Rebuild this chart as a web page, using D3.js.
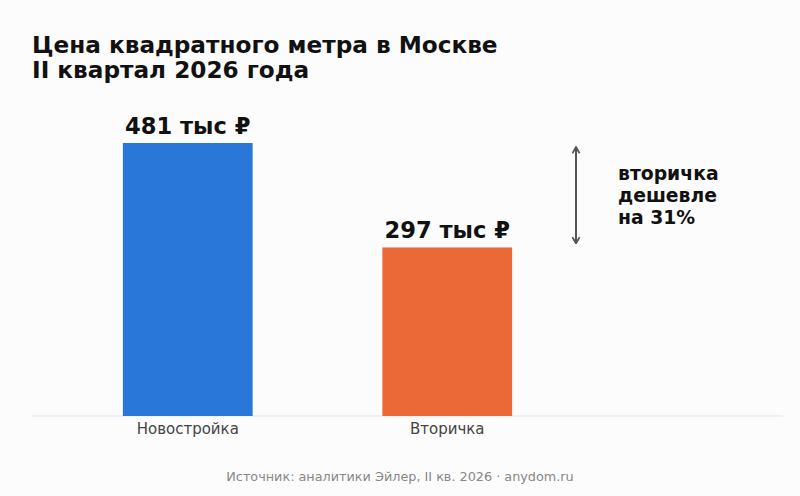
<!DOCTYPE html>
<html>
<head>
<meta charset="utf-8">
<script src="https://cdn.jsdelivr.net/npm/d3@7"></script>
<style>
  html, body { margin: 0; padding: 0; background: #fcfcfc; }
  svg { display: block; font-family: "DejaVu Sans", sans-serif; }
</style>
</head>
<body>
<svg width="800" height="496"></svg>
<script>
// данные
const categories = ["Новостройка", "Вторичка"];
const prices = [481, 297];          // тыс ₽ за м²
const barColors = ["#2977d8", "#eb6936"];
const titleLines = ["Цена квадратного метра в Москве", "II квартал 2026 года"];
const noteLines = ["вторичка", "дешевле", "на 31%"];
const source = "Источник: аналитики Эйлер, II кв. 2026 · anydom.ru";

const svg = d3.select("svg");

// заголовок
svg.append("g")
   .selectAll("text")
   .data(titleLines)
   .enter()
   .append("text")
   .attr("x", 32)
   .attr("y", (d, i) => 53 + i * 25)
   .style("font-size", "23.2px")
   .style("font-weight", "bold")
   .attr("fill", "#111")
   .text(d => d);

// шкалы
const x = d3.scaleBand()
            .domain(categories)
            .range([58, 577])
            .paddingInner(0.5)
            .paddingOuter(0.25);

const y = d3.scaleLinear()
            .domain([0, 481])
            .range([416, 143]);

// базовая линия
svg.append("line")
   .attr("x1", 32).attr("x2", 783)
   .attr("y1", y(0)).attr("y2", y(0))
   .attr("stroke", "#e3e3e3")
   .attr("stroke-width", 1);

// столбцы
svg.selectAll(".bar")
   .data(prices)
   .enter()
   .append("rect")
   .attr("class", "bar")
   .attr("x", (d, i) => x(categories[i]))
   .attr("width", x.bandwidth())
   .attr("y", d => y(d))
   .attr("height", d => y(0) - y(d))
   .attr("fill", (d, i) => barColors[i]);

// подписи значений
svg.selectAll(".val")
   .data(prices)
   .enter()
   .append("text")
   .attr("class", "val")
   .attr("x", (d, i) => x(categories[i]) + x.bandwidth() / 2)
   .attr("y", d => y(d) - 9)
   .attr("text-anchor", "middle")
   .style("font-size", "22.6px")
   .style("font-weight", "bold")
   .attr("fill", "#111")
   .text(d => d + " тыс ₽");

// ось категорий
const axis = svg.append("g")
                .attr("transform", `translate(0,${y(0)})`)
                .call(d3.axisBottom(x).tickSize(0).tickPadding(7));
axis.select(".domain").remove();
axis.selectAll("text")
    .style("font-size", "15px")
    .style("font-family", "DejaVu Sans, sans-serif")
    .attr("fill", "#444");

// стрелка разницы
const defs = svg.append("defs");
defs.append("marker")
    .attr("id", "ah")
    .attr("viewBox", "0 0 10 10")
    .attr("refX", 9).attr("refY", 5)
    .attr("markerUnits", "userSpaceOnUse")
    .attr("markerWidth", 9).attr("markerHeight", 9)
    .attr("orient", "auto-start-reverse")
    .append("path")
    .attr("d", "M2,1 L9,5 L2,9")
    .attr("fill", "none")
    .attr("stroke", "#555")
    .attr("stroke-width", 2);

svg.append("line")
   .attr("x1", 576).attr("x2", 576)
   .attr("y1", y(prices[0]) + 4)
   .attr("y2", y(prices[1]) - 4)
   .attr("stroke", "#555")
   .attr("stroke-width", 2)
   .attr("marker-start", "url(#ah)")
   .attr("marker-end", "url(#ah)");

svg.append("g")
   .selectAll("text")
   .data(noteLines)
   .enter()
   .append("text")
   .attr("x", 618)
   .attr("y", (d, i) => 180 + i * 22)
   .style("font-size", "18.8px")
   .style("font-weight", "bold")
   .attr("fill", "#111")
   .text(d => d);

// источник
svg.append("text")
   .attr("x", 400)
   .attr("y", 481)
   .attr("text-anchor", "middle")
   .style("font-size", "12.8px")
   .attr("fill", "#888")
   .text(source);
</script>
</body>
</html>
